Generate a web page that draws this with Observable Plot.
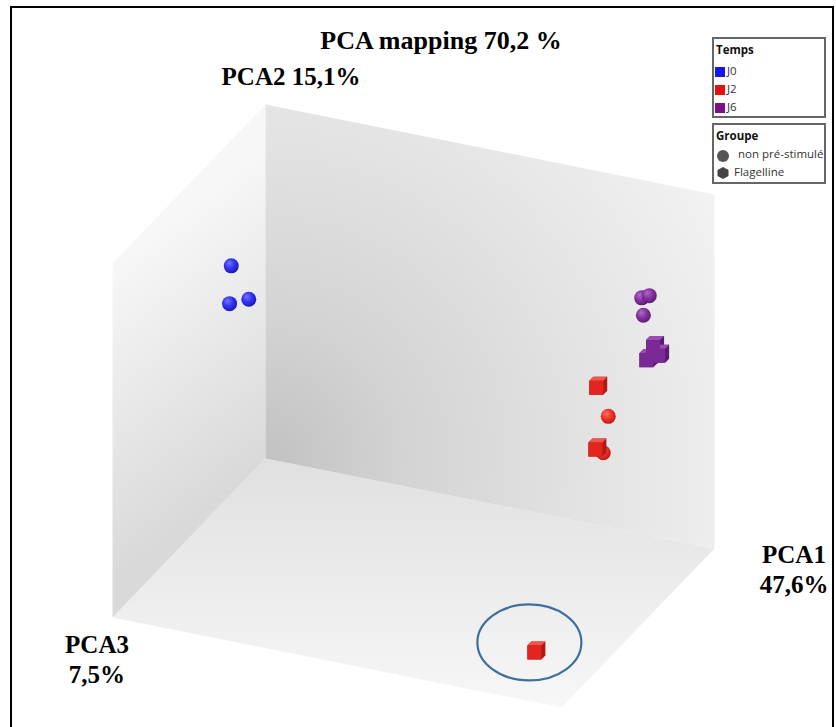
<!DOCTYPE html>
<html>
<head>
<meta charset="utf-8">
<script src="https://cdn.jsdelivr.net/npm/d3@7"></script>
<script src="https://cdn.jsdelivr.net/npm/@observablehq/plot@0.6"></script>
<style>
html,body{margin:0;padding:0;background:#fff;}
#page{position:relative;width:836px;height:727px;overflow:hidden;background:#fff;}
#page > svg{position:absolute;left:0;top:0;}
.frame{position:absolute;left:10px;top:6px;width:824px;height:800px;border:2px solid #000;box-sizing:border-box;pointer-events:none;}
.lbl{position:absolute;font-family:"Liberation Serif","Times New Roman",serif;font-weight:bold;color:#000;white-space:nowrap;text-align:center;}
.leg{position:absolute;left:712px;width:114px;border:2px solid #666;background:#fff;box-sizing:border-box;font-family:"Open Sans",sans-serif;font-size:11.5px;line-height:14px;color:#333;overflow:hidden;}
.leg .it{position:absolute;white-space:nowrap;}
.leg .hd{font-weight:bold;color:#111;}
.leg .sw{position:absolute;width:10px;height:10px;}
</style>
</head>
<body>
<div id="page"></div>
<script>
// ---------- DATA (projected plane coordinates, 0–100) ----------
const sampleTemps  = ["J0","J0","J0", "J6","J6","J6", "J6","J6","J6", "J2","J2","J2", "J2","J2"];
const sampleGroupe = ["non pré-stimulé","non pré-stimulé","non pré-stimulé",
                      "non pré-stimulé","non pré-stimulé","non pré-stimulé",
                      "Flagelline","Flagelline","Flagelline",
                      "Flagelline","Flagelline","Flagelline",
                      "non pré-stimulé","non pré-stimulé"];
const projX = [27.6, 27.4, 29.7,  76.7, 77.6, 76.9,  78.3, 78.9, 77.5,  71.5, 71.4, 64.1,  72.7, 72.1];
const projY = [63.5, 58.3, 58.9,  59.1, 59.4, 56.7,  52.6, 51.4, 50.8,  47.0, 38.5, 10.6,  42.8, 37.8];
const highlightedSample = 11; // circled outlier
const tempsLevels = ["J0", "J2", "J6"];
const groupeLevels = ["non pré-stimulé", "Flagelline"];
const titleText = "PCA mapping 70,2 %";
const axisLabels = ["PCA1", "47,6%", "PCA2 15,1%", "PCA3", "7,5%"];

// ---------- layout / styles ----------
const W = 836, H = 727;
const px2x = px => px * 100 / W, py2y = py => (H - py) * 100 / H;
const boxProj = {o: [265, 458], a1: [449, 90], a2: [0, -354], a3: [-153, 159]};
function project([u, v, w]) {
  const px = boxProj.o[0] + u * boxProj.a1[0] + v * boxProj.a2[0] + w * boxProj.a3[0];
  const py = boxProj.o[1] + u * boxProj.a1[1] + v * boxProj.a2[1] + w * boxProj.a3[1];
  return {x: px2x(px), y: py2y(py)};
}
const face = corners => [...corners, corners[0]].map(project);
const backFace  = face([[0,0,0],[1,0,0],[1,1,0],[0,1,0]]);
const leftFace  = face([[0,0,0],[0,0,1],[0,1,1],[0,1,0]]);
const floorFace = face([[0,0,0],[1,0,0],[1,0,1],[0,0,1]]);

const tempsSwatch = {J0: "#1414f5", J2: "#e80f0f", J6: "#7d0f86"};
const sphereFill = {J0: "url(#sph-J0)", J2: "url(#sph-J2)", J6: "url(#sph-J6)"};
const cubeFront = {J0: "#2a2ae6", J2: "#e2251e", J6: "#7b2996"};
const cubeTop   = {J0: "#5a5aff", J2: "#f2564a", J6: "#9a4cb3"};
const cubeSide  = {J0: "#16169e", J2: "#b01a14", J6: "#5a1a74"};

const samples = sampleTemps.map((t, i) => ({i, temps: t, groupe: sampleGroupe[i], x: projX[i], y: projY[i]}));
const spheres = samples.filter(d => d.groupe === groupeLevels[0]);
const cubes = samples.filter(d => d.groupe === groupeLevels[1]);

const poly = pts => ({draw(ctx) { ctx.moveTo(...pts[0]); for (const p of pts.slice(1)) ctx.lineTo(...p); ctx.closePath(); }});
const cubeSil   = poly([[-9,-5],[-5,-9],[9,-9],[9,5],[5,9],[-9,9]]);
const cubeTopS  = poly([[-9,-5],[-5,-9],[9,-9],[5,-5]]);
const cubeFrontS = poly([[-9,-5],[5,-5],[5,9],[-9,9]]);
const ellipseSym = {draw(ctx) {
  const rx = 52, ry = 38, k = 0.5523;
  ctx.moveTo(rx, 0);
  ctx.bezierCurveTo(rx, ry*k, rx*k, ry, 0, ry);
  ctx.bezierCurveTo(-rx*k, ry, -rx, ry*k, -rx, 0);
  ctx.bezierCurveTo(-rx, -ry*k, -rx*k, -ry, 0, -ry);
  ctx.bezierCurveTo(rx*k, -ry, rx, -ry*k, rx, 0);
  ctx.closePath();
}};

const chart = Plot.plot({
  width: W, height: H, margin: 0,
  x: {domain: [0, 100], axis: null},
  y: {domain: [0, 100], axis: null},
  color: {type: "identity"},
  style: {background: "transparent", overflow: "visible"},
  marks: [
    Plot.line(floorFace, {x: "x", y: "y", fill: "url(#gFloor)", stroke: "none"}),
    Plot.line(leftFace, {x: "x", y: "y", fill: "url(#gLeft)", stroke: "none"}),
    Plot.line(backFace, {x: "x", y: "y", fill: "url(#gBack)", stroke: "none"}),
    Plot.dot(spheres, {x: "x", y: "y", r: 7.5, fill: d => sphereFill[d.temps], stroke: "none"}),
    Plot.dot(cubes, {x: "x", y: "y", symbol: cubeSil, fill: d => cubeSide[d.temps]}),
    Plot.dot(cubes, {x: "x", y: "y", symbol: cubeTopS, fill: d => cubeTop[d.temps]}),
    Plot.dot(cubes, {x: "x", y: "y", symbol: cubeFrontS, fill: d => cubeFront[d.temps]}),
    Plot.dot(samples.filter(d => d.i === highlightedSample), {x: "x", y: "y", dx: -7, dy: -8, symbol: ellipseSym, fill: "none", stroke: "#3f6f9f", strokeWidth: 2.2})
  ]
});

// gradient definitions
const svg = d3.select(chart);
const defs = svg.insert("defs", ":first-child");
function grad(type, id, attrs, stops) {
  const g = defs.append(type).attr("id", id);
  for (const [k, v] of Object.entries(attrs)) g.attr(k, v);
  for (const [o, c] of stops) g.append("stop").attr("offset", o).attr("stop-color", c);
}
grad("radialGradient", "gBack", {gradientUnits: "userSpaceOnUse", cx: 268, cy: 455, r: 540},
  [[0, "#c2c2c2"], [0.25, "#d3d3d3"], [0.6, "#e3e3e3"], [1, "#f4f4f4"]]);
grad("linearGradient", "gLeft", {gradientUnits: "userSpaceOnUse", x1: 112, y1: 263, x2: 265, y2: 460},
  [[0, "#f7f7f7"], [1, "#d9d9d9"]]);
grad("linearGradient", "gFloor", {gradientUnits: "userSpaceOnUse", x1: 0, y1: 458, x2: 0, y2: 707},
  [[0, "#e0e0e0"], [1, "#f7f7f7"]]);
const sph = {J0: ["#7474ff", "#3232f2", "#1b1baa"], J2: ["#ff7466", "#f0322a", "#bb1a14"], J6: ["#b06ccb", "#86309f", "#5b1b71"]};
for (const t of tempsLevels) {
  grad("radialGradient", "sph-" + t, {cx: 0.42, cy: 0.4, r: 0.62, fx: 0.36, fy: 0.3},
    [[0, sph[t][0]], [0.55, sph[t][1]], [1, sph[t][2]]]);
}

const page = document.getElementById("page");
page.appendChild(chart);

// text labels
function addLabel(html, left, top, size, lh) {
  const d = document.createElement("div");
  d.className = "lbl";
  d.style.left = left + "px"; d.style.top = top + "px";
  d.style.fontSize = size + "px"; d.style.lineHeight = lh + "px";
  d.style.transform = "translateX(-50%)";
  d.innerHTML = html;
  page.appendChild(d);
}
addLabel(titleText, 441, 28, 26, 26);
addLabel(axisLabels[2], 291, 64, 25, 25);
addLabel(axisLabels[0] + "<br>" + axisLabels[1], 794, 540, 25, 30);
addLabel(axisLabels[3] + "<br>" + axisLabels[4], 97, 630, 25, 30);

// legends
const leg1 = document.createElement("div");
leg1.className = "leg"; leg1.style.top = "37px"; leg1.style.height = "81px";
let h1 = `<div class="it hd" style="left:2px;top:4px">Temps</div>`;
tempsLevels.forEach((t, k) => {
  const sy = 28 + k * 18;
  h1 += `<div class="sw" style="left:1px;top:${sy}px;background:${tempsSwatch[t]}"></div>`;
  h1 += `<div class="it" style="left:13px;top:${sy - 3}px">${t}</div>`;
});
leg1.innerHTML = h1;
page.appendChild(leg1);

const leg2 = document.createElement("div");
leg2.className = "leg"; leg2.style.top = "123px"; leg2.style.height = "61px";
leg2.innerHTML =
  `<div class="it hd" style="left:2px;top:4px">Groupe</div>` +
  `<svg class="it" style="left:2px;top:24px" width="14" height="14"><circle cx="7" cy="7" r="6" fill="#555"/></svg>` +
  `<div class="it" style="left:24px;top:22px">${groupeLevels[0]}</div>` +
  `<svg class="it" style="left:2px;top:41px" width="14" height="14"><path d="M7,1 L12.5,4 L12.5,10 L7,13 L1.5,10 L1.5,4 Z" fill="#444"/></svg>` +
  `<div class="it" style="left:20px;top:40px">${groupeLevels[1]}</div>`;
page.appendChild(leg2);

const frame = document.createElement("div");
frame.className = "frame";
page.appendChild(frame);
</script>
</body>
</html>
